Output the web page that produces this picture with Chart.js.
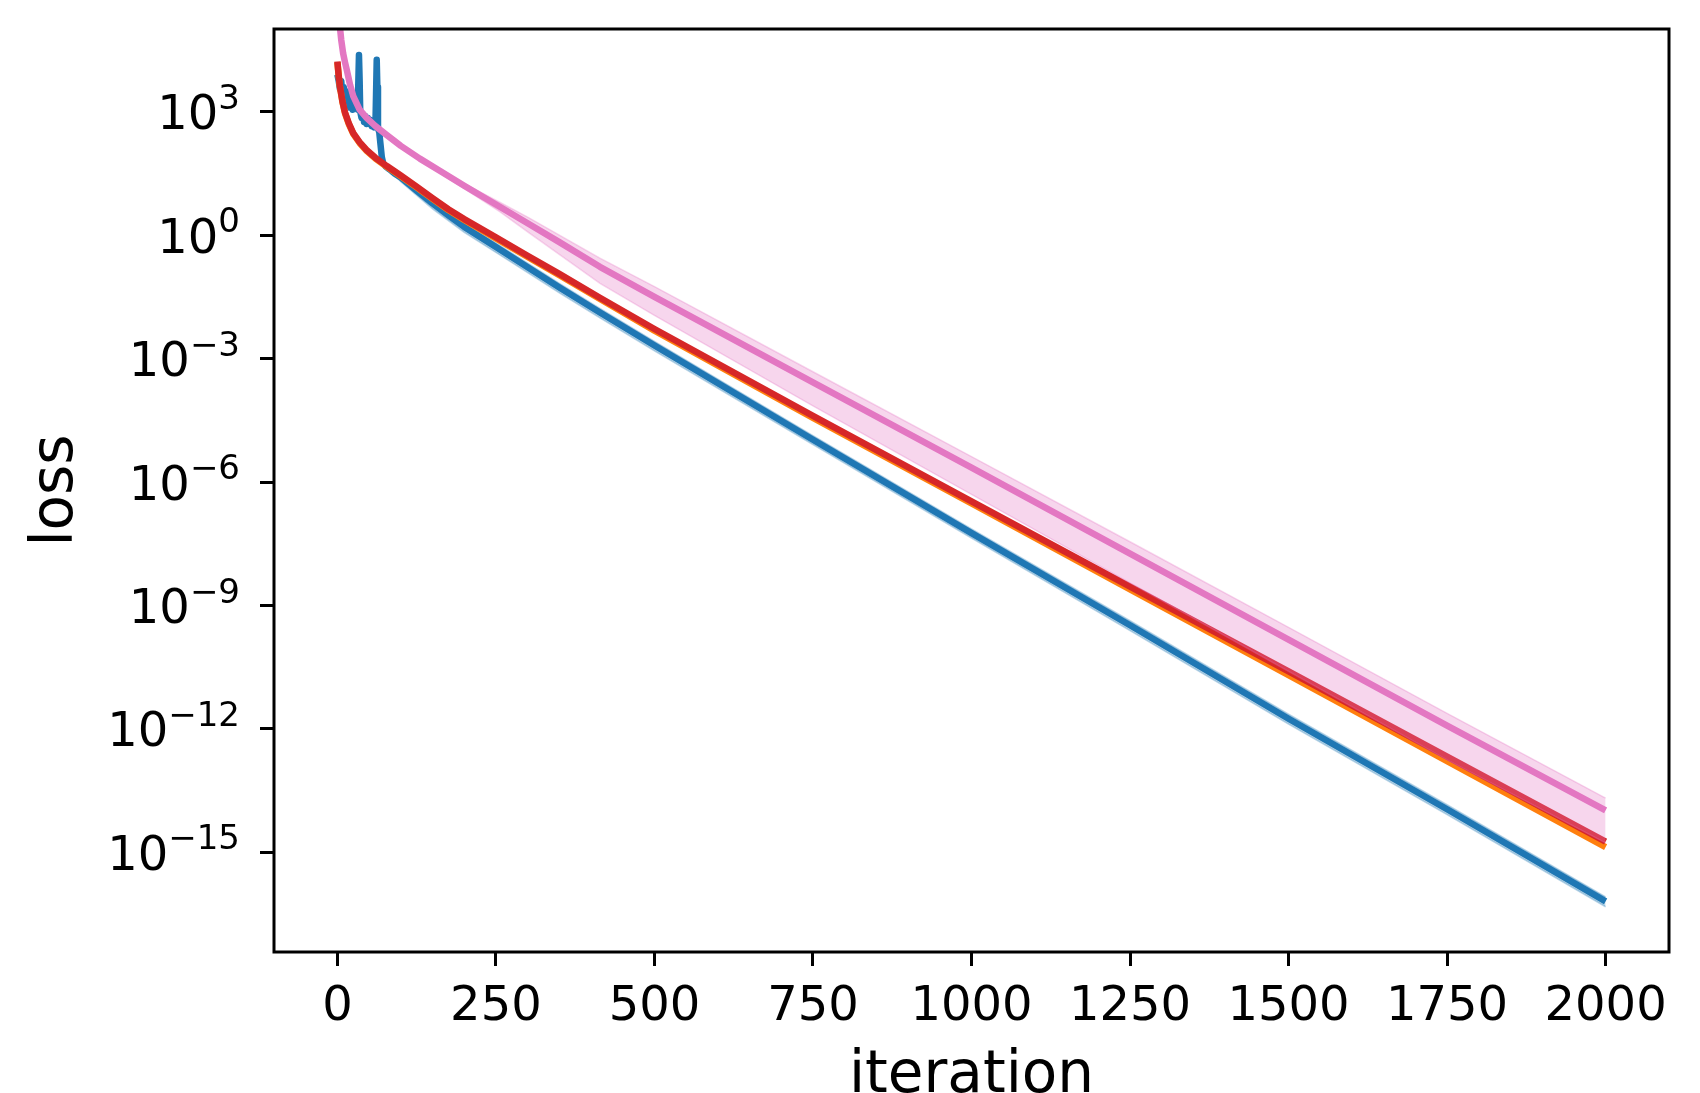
<!DOCTYPE html>
<html>
<head>
<meta charset="utf-8">
<title>loss vs iteration</title>
<script src="https://cdn.jsdelivr.net/npm/chart.js@4.4.1/dist/chart.umd.min.js"></script>
<style>
  html, body { margin: 0; padding: 0; background: #fff; overflow: hidden; }
  #wrap { width: 1700px; height: 1130px; }
</style>
</head>
<body>
<div id="wrap"><canvas id="lossChart" width="1700" height="1130"></canvas></div>
<script>
// values, stored as log10(loss)
const blueIters = [0, 2, 4, 6, 8, 10, 12, 14, 16, 18, 20, 22, 24, 26, 28, 30, 32, 34, 35, 36, 38, 40, 42, 44, 46, 48, 50, 52, 54, 56, 58, 60, 62, 63, 64, 66, 68, 70, 72, 76, 82, 90, 100, 125, 150, 175, 200, 250, 300, 350, 414, 500, 750, 1000, 1250, 1500, 1750, 2000];
const blueLog10 = [3.9, 3.75, 3.55, 3.75, 3.35, 3.6, 3.2, 3.5, 3.15, 3.4, 3.1, 3.3, 3.05, 3.25, 3.1, 3.2, 3.05, 4.38, 3.8, 3.0, 2.85, 2.95, 2.75, 2.9, 2.7, 2.85, 2.7, 2.8, 2.65, 2.78, 2.62, 2.7, 4.26, 3.6, 2.6, 2.5, 2.2, 1.9, 1.76, 1.67, 1.6, 1.5, 1.4, 1.08, 0.77, 0.48, 0.2, -0.29, -0.78, -1.27, -1.88, -2.68, -4.97, -7.24, -9.48, -11.75, -13.95, -16.19];

const blueBandIters = [90, 100, 150, 200, 250, 300, 350, 414, 500, 750, 1000, 1250, 1500, 1750, 2000];
const blueUpperLog10 = [1.55, 1.48, 0.86, 0.3, -0.19, -0.68, -1.17, -1.78, -2.58, -4.87, -7.14, -9.37, -11.64, -13.84, -16.08];
const blueLowerLog10 = [1.45, 1.3, 0.64, 0.07, -0.42, -0.91, -1.4, -2.01, -2.81, -5.09, -7.36, -9.61, -11.88, -14.08, -16.32];

const redIters = [0, 2, 4, 8, 12, 18, 25, 35, 46, 60, 78, 100, 125, 150, 175, 200, 250, 300, 350, 414, 500, 750, 1000, 1250, 1500, 1750, 2000];
const redLog10 = [4.22, 3.88, 3.62, 3.25, 2.98, 2.72, 2.48, 2.26, 2.07, 1.88, 1.68, 1.45, 1.18, 0.9, 0.63, 0.39, -0.05, -0.5, -0.94, -1.52, -2.28, -4.39, -6.47, -8.54, -10.6, -12.67, -14.74];
const orangeLog10 = [4.2, 3.86, 3.6, 3.23, 2.96, 2.7, 2.46, 2.24, 2.05, 1.86, 1.66, 1.43, 1.16, 0.88, 0.61, 0.37, -0.08, -0.53, -0.97, -1.55, -2.32, -4.44, -6.52, -8.61, -10.69, -12.78, -14.87];

const pinkIters = [0, 2, 4, 6, 9, 12, 15, 20, 25, 35, 46, 60, 78, 100, 130, 162, 200, 256, 300, 350, 414, 500, 750, 1000, 1250, 1500, 1750, 2000];
const pinkLog10 = [6.5, 5.6, 5.05, 4.75, 4.42, 4.2, 4.0, 3.65, 3.38, 3.05, 2.85, 2.65, 2.43, 2.17, 1.86, 1.56, 1.2, 0.69, 0.29, -0.17, -0.77, -1.5, -3.58, -5.65, -7.74, -9.83, -11.92, -13.98];

const pinkBandIters = [100, 150, 200, 256, 300, 414, 500, 750, 1000, 1250, 1500, 1750, 2000];
const pinkUpperLog10 = [2.2, 1.7, 1.25, 0.8, 0.44, -0.56, -1.25, -3.32, -5.38, -7.45, -9.53, -11.62, -13.68];
const pinkLowerLog10 = [2.13, 1.62, 1.13, 0.57, 0.08, -1.17, -1.95, -4.15, -6.3, -8.45, -10.6, -12.75, -14.77];

const xTicks = [0, 250, 500, 750, 1000, 1250, 1500, 1750, 2000];
const yTickExps = [3, 0, -3, -6, -9, -12, -15];

const BLUE = '#1f77b4', ORANGE = '#ff7f0e', RED = '#d62728', PINK = '#e377c2';
const FONT = "'DejaVu Sans', Verdana, sans-serif";

function toPoints(iters, logs) {
  return iters.map((x, i) => ({x: x, y: Math.pow(10, logs[i])}));
}

function line(data, color, order) {
  return {
    data: data, borderColor: color, borderWidth: 6.5, pointRadius: 0,
    borderJoinStyle: 'round', fill: false, order: order, clip: 0
  };
}

function bandEdge(data, color, fill, order) {
  return {
    data: data, borderColor: color, backgroundColor: color, borderWidth: 1.5,
    pointRadius: 0, fill: fill, order: order, clip: 0
  };
}

// matplotlib style box round the axes
const framePlugin = {
  id: 'frame',
  afterDatasetsDraw(chart) {
    const {ctx, chartArea: a} = chart;
    ctx.save();
    ctx.strokeStyle = '#000';
    ctx.lineWidth = 3;
    ctx.strokeRect(a.left, a.top, a.right - a.left, a.bottom - a.top);
    ctx.restore();
  }
};

// 10^n labels with a raised, smaller exponent (like mathtext)
const powerLabels = {
  id: 'powerLabels',
  afterDraw(chart) {
    const {ctx, chartArea} = chart;
    const scale = chart.scales.y;
    const right = chartArea.left - 34;
    ctx.save();
    ctx.fillStyle = '#000';
    ctx.textAlign = 'left';
    ctx.textBaseline = 'alphabetic';
    yTickExps.forEach(e => {
      const py = scale.getPixelForValue(Math.pow(10, e));
      const exp = e < 0 ? '\u2212' + (-e) : String(e);
      ctx.font = '34px ' + FONT;
      const ew = ctx.measureText(exp).width;
      ctx.font = '48px ' + FONT;
      const bw = ctx.measureText('10').width;
      ctx.fillText('10', right - ew - bw, py + 17.5);
      ctx.font = '34px ' + FONT;
      ctx.fillText(exp, right - ew, py - 3);
    });
    ctx.restore();
  }
};

const blueBand = 'rgba(31, 119, 180, 0.3)';
const pinkBand = 'rgba(227, 119, 194, 0.3)';

new Chart(document.getElementById('lossChart'), {
  type: 'line',
  data: {
    datasets: [
      bandEdge(toPoints(blueBandIters, blueUpperLog10), blueBand, false, 7),
      bandEdge(toPoints(blueBandIters, blueLowerLog10), blueBand, '-1', 7),
      line(toPoints(blueIters, blueLog10), BLUE, 6),
      line(toPoints(redIters, orangeLog10), ORANGE, 5),
      line(toPoints(redIters, redLog10), RED, 4),
      bandEdge(toPoints(pinkBandIters, pinkUpperLog10), pinkBand, false, 3),
      bandEdge(toPoints(pinkBandIters, pinkLowerLog10), pinkBand, '-1', 3),
      line(toPoints(pinkIters, pinkLog10), PINK, 1)
    ]
  },
  options: {
    responsive: false,
    animation: false,
    devicePixelRatio: 1,
    layout: { padding: { top: 29, right: 31, left: 0, bottom: 0 } },
    plugins: { legend: { display: false }, tooltip: { enabled: false } },
    scales: {
      x: {
        type: 'linear',
        min: -100,
        max: 2100,
        afterBuildTicks: s => { s.ticks = xTicks.map(v => ({value: v})); },
        afterFit: s => { s.height = 178; s.paddingLeft = 0; s.paddingRight = 0; },
        grid: { drawOnChartArea: false, tickLength: 14, tickWidth: 3, tickColor: '#000' },
        border: { display: false },
        ticks: {
          autoSkip: false, maxRotation: 0, padding: 13, color: '#000',
          font: { family: FONT, size: 48 },
          callback: v => String(v)
        },
        title: {
          display: true, text: 'iteration', color: '#000',
          font: { family: FONT, size: 58 },
          padding: { top: 0, bottom: 18 }
        }
      },
      y: {
        type: 'logarithmic',
        min: Math.pow(10, -17.42),
        max: Math.pow(10, 5.01),
        afterBuildTicks: s => { s.ticks = yTickExps.map(e => ({value: Math.pow(10, e)})); },
        afterFit: s => { s.width = 274; s.paddingTop = 0; s.paddingBottom = 0; },
        grid: { drawOnChartArea: false, tickLength: 14, tickWidth: 3, tickColor: '#000' },
        border: { display: false },
        ticks: { display: false },
        title: {
          display: true, text: 'loss', color: '#000',
          font: { family: FONT, size: 58 },
          padding: { top: 22, bottom: 0 }
        }
      }
    }
  },
  plugins: [framePlugin, powerLabels]
});
</script>
</body>
</html>
